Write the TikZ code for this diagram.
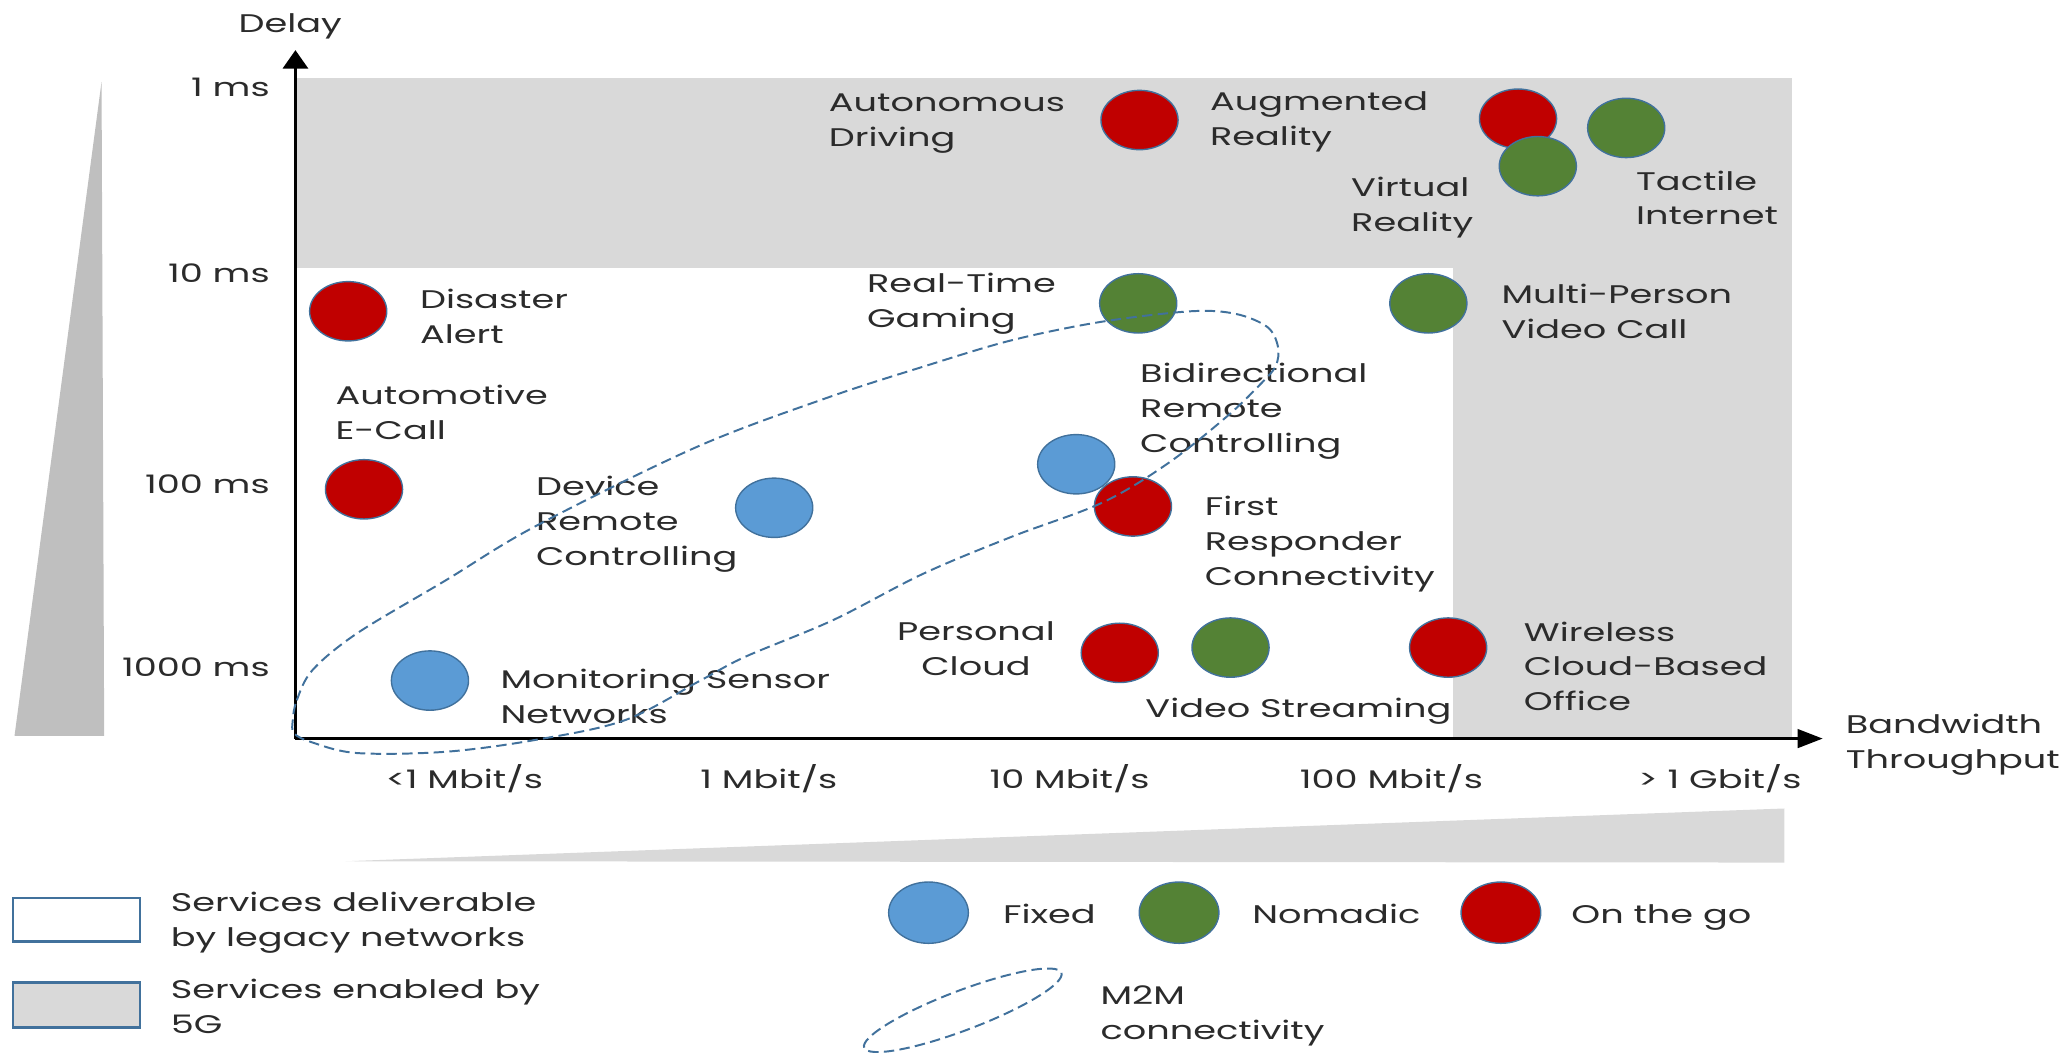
\documentclass[tikz,border=0pt]{standalone}
\usepackage{fontspec}
\setmainfont{Poppins}
\usetikzlibrary{arrows.meta}
\definecolor{band}{HTML}{D9D9D9}
\definecolor{wedge}{HTML}{BFBFBF}
\definecolor{ink}{HTML}{2B2B2B}
\definecolor{edge}{HTML}{41719C}
\definecolor{ongo}{HTML}{C00000}
\definecolor{nomad}{HTML}{548235}
\definecolor{fixedc}{HTML}{5B9BD5}
\begin{document}
\begin{tikzpicture}[x=0.02cm, y=-0.02cm,
  txt/.style={font=\fontsize{11}{15}\selectfont, text=ink, inner sep=0pt, xscale=1.44, align=left},
  lbl/.style={txt, anchor=north west},
  tick/.style={txt, anchor=base},
  ytick/.style={txt, anchor=base east},
  dot/.style={circle, draw=edge, line width=0.6pt, minimum size=0.9cm, inner sep=0pt, xscale=1.3},
  keydot/.style={dot, minimum size=0.93cm},
  axis/.style={line width=1.3pt, black},
  m2m/.style={draw=edge, line width=0.85pt, dash pattern=on 4.5pt off 2.3pt},
  keybox/.style={draw=edge, line width=1.1pt}]
\useasboundingbox (0,0) rectangle (1568,798);

% shaded regions of the chart
\fill[band] (224,59) rectangle (1359,203);
\fill[band] (1102,203) rectangle (1359,560);
\fill[wedge] (77,62) -- (79,558) -- (11,558) -- cycle;
\fill[band] (262,653) -- (1353,613) -- (1353,654) -- cycle;

% axes
\coordinate (O) at (224,560);
\coordinate (ytip) at (224,38);
\coordinate (xtip) at (1382,560);
\draw[axis, -{Triangle[length=0.28cm,width=0.38cm]}] (O) -- (ytip);
\draw[axis, -{Triangle[length=0.38cm,width=0.28cm]}] (O) -- (xtip);
\node[tick] (delay) at (220,25) {Delay};
\node[lbl] (bw) at (1399,541) {Bandwidth\\Throughput};

% delay ticks
\node[ytick] (t1) at (205,73.5) {1 ms};
\node[ytick] (t10) at (205,214) {10 ms};
\node[ytick] (t100) at (205,374) {100 ms};
\node[ytick] (t1000) at (205,513) {1000 ms};

% bandwidth ticks
\node[tick] (b0) at (352,598) {<1 Mbit/s};
\node[tick] (b1) at (583,598) {1 Mbit/s};
\node[tick] (b10) at (811,598) {10 Mbit/s};
\node[tick] (b100) at (1055,598) {100 Mbit/s};
\node[tick] (b1000) at (1304,598) {> 1 Gbit/s};

% services
\node[dot, fill=ongo] (ad) at (864,91) {};
\node[dot, fill=ongo] (ar) at (1151,90) {};
\node[dot, fill=nomad] (vr) at (1166,126) {};
\node[dot, fill=nomad] (ti) at (1233,97) {};
\node[dot, fill=nomad] (rtg) at (863,230) {};
\node[dot, fill=nomad] (mpv) at (1083,230) {};
\node[dot, fill=ongo] (da) at (264,236) {};
\node[dot, fill=ongo] (ae) at (276,371) {};
\node[dot, fill=fixedc] (drc) at (587,385) {};
\node[dot, fill=fixedc] (brc) at (816,352) {};
\node[dot, fill=ongo] (frc) at (859,384) {};
\node[dot, fill=ongo] (pc) at (849,495) {};
\node[dot, fill=nomad] (vs) at (933,491) {};
\node[dot, fill=ongo] (wco) at (1098,491) {};
\node[dot, fill=fixedc] (msn) at (326,516) {};

\node[lbl] (lad) at (628,71) {Autonomous\\Driving};
\node[lbl] (lar) at (917,69) {Augmented\\Reality};
\node[lbl] (lvr) at (1024,134) {Virtual\\Reality};
\node[lbl] (lti) at (1240,129) {Tactile\\Internet};
\node[lbl] (lda) at (318,219) {Disaster\\Alert};
\node[lbl] (lrtg) at (657,207) {Real-Time\\Gaming};
\node[lbl] (lmpv) at (1138,215) {Multi-Person\\Video Call};
\node[lbl] (lae) at (254,292) {Automotive\\E-Call};
\node[lbl] (lbrc) at (864,275) {Bidirectional\\Remote\\Controlling};
\node[lbl] (ldrc) at (406,361) {Device\\Remote\\Controlling};
\node[lbl] (lfrc) at (913,376) {First\\Responder\\Connectivity};
\node[txt, anchor=north, align=center] (lpc) at (740,471) {Personal\\Cloud};
\node[lbl] (lwco) at (1155,471) {Wireless\\Cloud-Based\\Office};
\node[lbl] (lmsn) at (379,507) {Monitoring Sensor\\Networks};
\node[lbl] (lvs) at (868,529) {Video Streaming};

% machine-to-machine group
\draw[m2m] plot[smooth cycle, tension=0.55] coordinates {
  (222,546) (225,531) (237,508) (271,480) (338,440) (406,399) (528,339)
  (626,302) (700,278) (767,258) (835,244) (903,236) (937,238) (961,248)
  (969,263) (967,278) (954,293) (930,316) (886,351) (836,381) (767,407)
  (700,435) (632,470) (565,498) (531,516) (474,546) (406,561) (338,570)
  (271,571) (237,563) (223,556)};

% key
\draw[keybox, fill=white] (10,681) rectangle (106,714);
\draw[keybox, fill=band] (10,745) rectangle (106,779);
\node[lbl] (k1) at (129,676) {Services deliverable\\by legacy networks};
\node[lbl] (k2) at (129,742) {Services enabled by\\5G};
\node[keydot, fill=fixedc] (kf) at (704,692) {};
\node[txt, anchor=base west] (kfl) at (760,700) {Fixed};
\node[keydot, fill=nomad] (kn) at (894,692) {};
\node[txt, anchor=base west] (knl) at (949,700) {Nomadic};
\node[keydot, fill=ongo] (kg) at (1138,692) {};
\node[txt, anchor=base west] (kgl) at (1191,700) {On the go};
\draw[m2m, rotate around={20.8:(730,766)}] (730,766) ellipse [x radius=80, y radius=15];
\node[lbl] (km) at (834,747) {M2M\\connectivity};
\end{tikzpicture}
\end{document}
